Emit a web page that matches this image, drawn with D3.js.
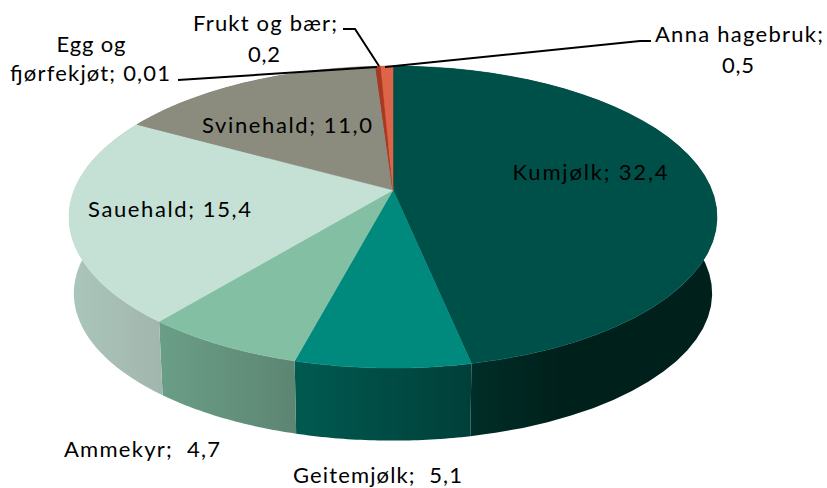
<!DOCTYPE html>
<html><head><meta charset="utf-8">
<script src="https://cdn.jsdelivr.net/npm/d3@7"></script>
<style>html,body{margin:0;padding:0;background:#fff}svg{display:block}
text{font-family:Lato,"Open Sans",sans-serif;font-size:22px;fill:#000;white-space:pre}</style>
</head><body><svg id="c" width="827" height="488"></svg>
<script>
const categories=["Kumjølk","Geitemjølk","Ammekyr","Sauehald","Svinehald","Egg og fjørfekjøt","Frukt og bær","Anna hagebruk"];
const values=[32.4,5.1,4.7,15.4,11.0,0.01,0.2,0.5];
const valueLabels=["32,4","5,1","4,7","15,4","11,0","0,01","0,2","0,5"];
const topColors=["#00504a","#00897d","#82bfa3","#c5e0d4","#8b8b7e","#a33a22","#a8381f","#dc6449"];
const wallColors=[["#002e28","#00201b"],["#005a50","#003f39"],["#6a9e87","#5c8572"],["#aac6ba","#a2b6ae"],["#6a6a60","#6a6a60"],["#7a2a18","#7a2a18"],["#7a2a18","#7a2a18"],["#a84a35","#a84a35"]];

const apex={x:393,y:190},bottomY=267,depthScaleX=.985,depthScaleY=.975,persp=.179,kx=318.8,ky=146.2;
function rim(a){const u=Math.sin(a),v=Math.cos(a),d=1+persp*v;return [kx*u/d,-ky*v/d];}
const topPt=a=>{const p=rim(a);return [apex.x+p[0],apex.y+p[1]];};
const botPt=a=>{const p=rim(a);return [apex.x+p[0]*depthScaleX,bottomY+p[1]*depthScaleY];};
const arcs=d3.pie().sort(null).startAngle(0).endAngle(2*Math.PI)(values);
const svg=d3.select("#c"),defs=svg.append("defs");
const line=d3.line();
const samples=(a0,a1)=>d3.range(0,41).map(i=>a0+(a1-a0)*i/40);

// walls
const walls=svg.append("g");
arcs.forEach((d,i)=>{
  const s=samples(d.startAngle,d.endAngle);
  const xs=s.map(a=>topPt(a)[0]).concat(s.map(a=>botPt(a)[0]));
  const id="w"+i;
  const g=defs.append("linearGradient").attr("id",id).attr("gradientUnits","userSpaceOnUse")
    .attr("x1",i==0?471:d3.min(xs)).attr("x2",i==0?560:d3.max(xs)).attr("y1",0).attr("y2",0);
  g.append("stop").attr("offset",0).attr("stop-color",wallColors[i][0]);
  g.append("stop").attr("offset",1).attr("stop-color",wallColors[i][1]);
  const poly=s.map(topPt).concat(s.slice().reverse().map(botPt));
  walls.append("path").attr("d",line(poly)+"Z").attr("fill",`url(#${id})`);
});
// top faces
const tops=svg.append("g");
arcs.forEach((d,i)=>{
  const poly=[[apex.x,apex.y]].concat(samples(d.startAngle,d.endAngle).map(topPt));
  tops.append("path").attr("d",line(poly)+"Z").attr("fill",topColors[i]).attr("stroke",topColors[i]).attr("stroke-width",.5);
});
// leaders
const leaders=[[[178,80],[377,67]],[[343,29],[355,29],[379,66]],[[385,67],[640,41],[651,41]]];
svg.append("g").selectAll("path").data(leaders).join("path")
  .attr("d",line).attr("fill","none").attr("stroke","#000").attr("stroke-width",2);
// labels
const labelLayout=[
 {i:0,x:590,y:180,w:155,t:d=>`${categories[d]}; ${valueLabels[d]}`},
 {i:1,x:377.5,y:483,w:169,t:d=>`${categories[d]};  ${valueLabels[d]}`},
 {i:2,x:142,y:457,w:156,t:d=>`${categories[d]};  ${valueLabels[d]}`},
 {i:3,x:169.5,y:217,w:163,t:d=>`${categories[d]}; ${valueLabels[d]}`},
 {i:4,x:287,y:133,w:170,t:d=>`${categories[d]}; ${valueLabels[d]}`},
 {i:5,x:91,y:52,w:69,t:d=>"Egg og"},
 {i:5,x:90,y:81,w:160,t:d=>`fjørfekjøt; ${valueLabels[d]}`},
 {i:6,x:265,y:31,w:144,t:d=>`${categories[d]};`},
 {i:6,x:264,y:62,w:32,t:d=>valueLabels[d]},
 {i:7,x:739,y:42,w:168,t:d=>`${categories[d]};`},
 {i:7,x:738,y:73,w:32,t:d=>valueLabels[d]}
];
svg.append("g").selectAll("text").data(labelLayout).join("text")
  .attr("x",d=>d.x).attr("y",d=>d.y).attr("text-anchor","middle")
  .attr("textLength",d=>d.w).attr("lengthAdjust","spacing")
  .text(d=>d.t(d.i));
</script></body></html>
